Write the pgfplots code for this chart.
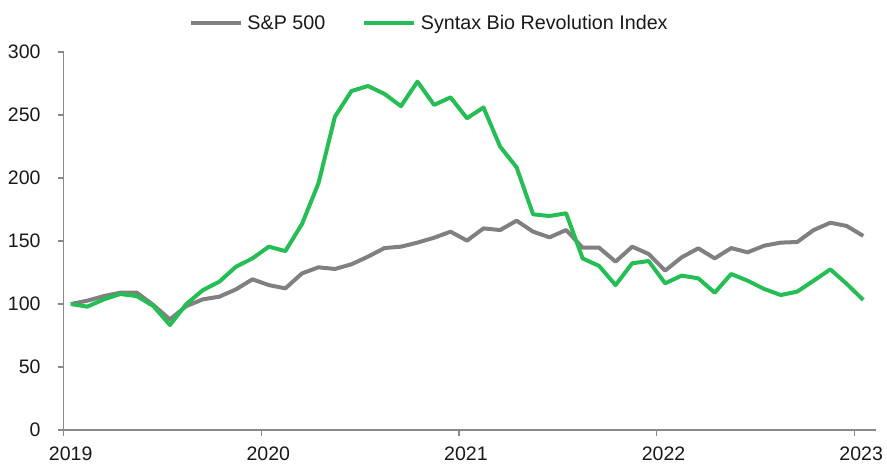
\documentclass[border=0pt]{standalone}
\usepackage{pgfplots}
\pgfplotsset{compat=1.18}
\usepackage{pgfplotstable}
\usepackage{fontspec}
\setmainfont{Liberation Sans}
\definecolor{spgray}{RGB}{128,128,128}
\definecolor{biogreen}{RGB}{37,190,85}
\definecolor{axgray}{RGB}{137,137,137}
\definecolor{txt}{RGB}{25,25,25}

\pgfplotstableread{
x sp bio
0.43 100 100
1.43 102.6 97.9
2.44 106.3 103.7
3.44 109 107.9
4.44 109 106.3
5.44 99.2 98.4
6.45 87.8 83.3
7.45 98.4 100
8.45 103.7 111
9.45 105.8 117.7
10.46 111.6 129.6
11.46 119.6 136.2
12.46 115 145.5
13.46 112.4 142
14.47 124.3 163.5
15.47 129.1 195.8
16.47 127.8 248.7
17.47 131.5 269
18.48 137.6 273
19.48 144.4 266.7
20.48 145.5 257
21.48 148.7 276.5
22.49 152.6 258
23.49 157.4 264
24.49 150.3 247.4
25.49 160 256
26.50 158.7 224.9
27.50 166.1 208.5
28.50 157.4 171.2
29.50 152.9 169.8
30.51 158.7 172
31.51 144.7 136.2
32.51 144.7 130.2
33.51 133.6 115
34.52 145.5 132.3
35.52 139.7 134.1
36.52 126.5 116.4
37.52 137 122.5
38.53 144.2 120.4
39.53 136.2 109
40.53 144.4 123.8
41.53 141 118.5
42.54 146.3 111.9
43.54 148.7 107.1
44.54 149.2 109.8
45.54 158.7 118.5
46.55 164.5 127.5
47.55 161.9 115.9
48.55 154 103.2
}\datatable

\begin{document}
\begin{tikzpicture}
\useasboundingbox (-63.7bp,-35bp) rectangle (823.3bp,430bp);
\begin{axis}[
  scale only axis, width=811.9bp, height=378bp,
  xmin=0, xmax=49.3, ymin=0, ymax=300,
  axis x line*=bottom, axis y line*=left,
  axis line style={axgray, line width=1.3bp},
  xtick={0,12,24,36,48}, xticklabels={2019,2020,2021,2022,2023},
  ytick={0,50,100,150,200,250,300},
  tick align=outside, major tick length=6bp,
  tick style={axgray, line width=1.3bp},
  tick label style={font=\fontsize{19.6}{22}\selectfont, text=txt, inner sep=0pt},
  xticklabel style={anchor=north, yshift=-11bp, xshift=7bp},
  yticklabel style={anchor=east, xshift=-17bp},
  /pgf/number format/assume math mode=true,
  legend style={draw=none, fill=none, at={(0.449,1.076)}, anchor=center,
    font=\fontsize{19.8}{22}\selectfont, text=txt,
    nodes={inner sep=0pt},
    /tikz/column sep=0pt,
    /tikz/every odd column/.append style={column sep=5bp},
    /tikz/every even column/.append style={column sep=37bp}},
  legend columns=2,
  legend image code/.code={\draw[#1, line width=3.6bp] (0bp,0bp) -- (50bp,0bp);},
]
\addplot[spgray, line width=4bp, line join=round] table[x=x, y=sp] {\datatable};
\addlegendentry{S\&P 500}
\addplot[biogreen, line width=4bp, line join=round] table[x=x, y=bio] {\datatable};
\addlegendentry{Syntax Bio Revolution Index}
\end{axis}
\end{tikzpicture}
\end{document}
